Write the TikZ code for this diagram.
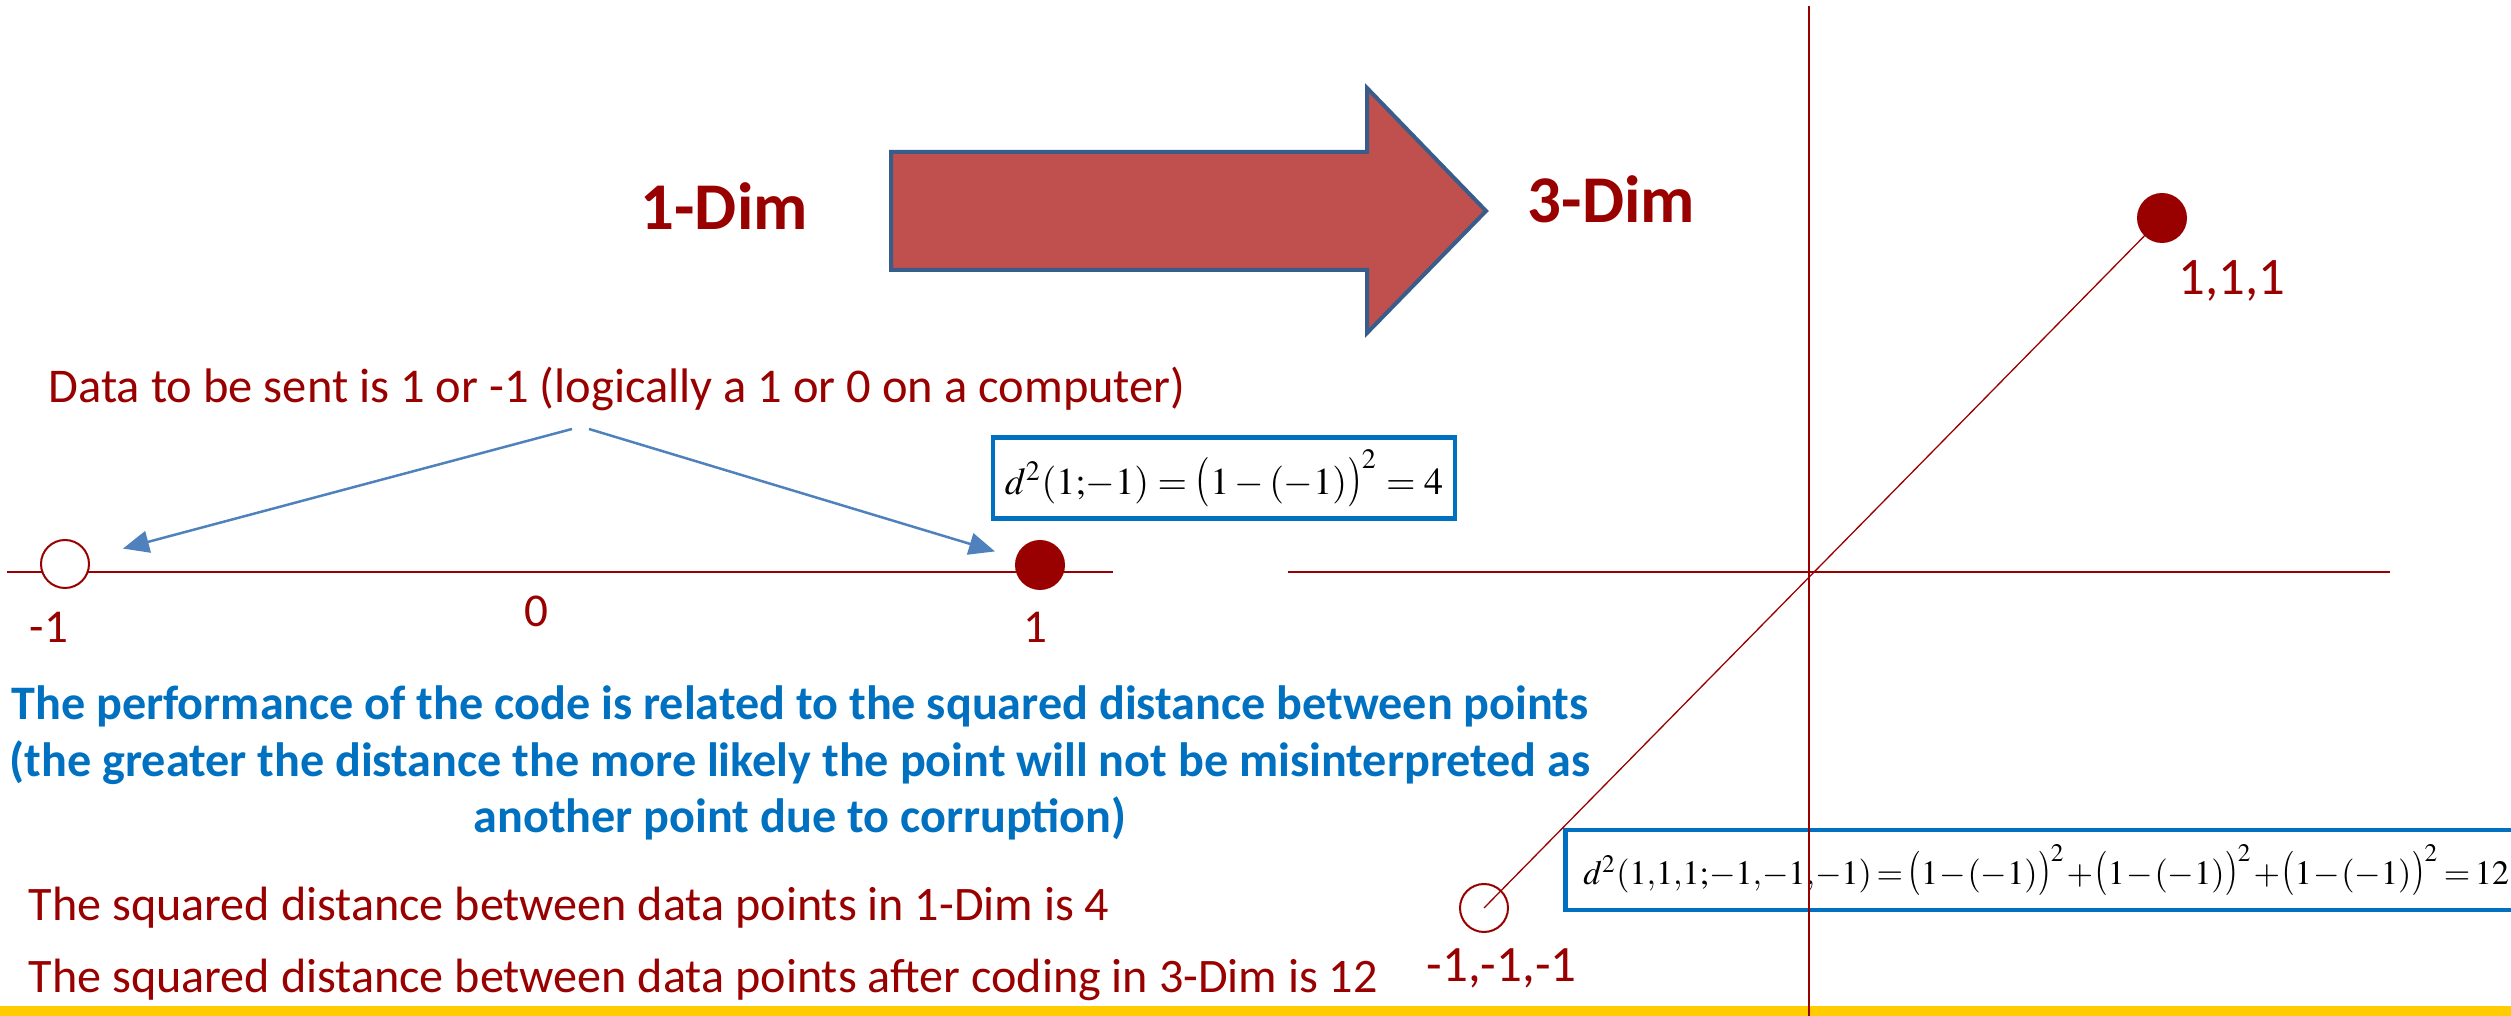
\documentclass[tikz,border=0pt]{standalone}
\usepackage{mathptmx}
\usepackage[no-math]{fontspec}
\setmainfont{Carlito}
\usepackage{tikz}
\usetikzlibrary{positioning, arrows.meta, calc}
\definecolor{cDarkRed}  {HTML}{990000}
\definecolor{cTextBlue} {HTML}{0070C0}
\definecolor{cArrowFill}{HTML}{C0504D}
\definecolor{cArrowEdge}{HTML}{385D8A}
\definecolor{cPointer}  {HTML}{4F81BD}
\definecolor{cBar}      {HTML}{FFCC00}
% tall but narrow brackets, as in the slide's equation editor
\newcommand{\tallL}{\mathopen{\scalebox{1}[1.3]{$($}}}
\newcommand{\tallR}{\mathclose{\scalebox{1}[1.3]{$)$}}}
\newcommand{\diffsq}{\tallL 1-(-1)\tallR^{2}}

\begin{document}
\begin{tikzpicture}[x=0.1mm, y=-0.1mm,
    dimlabel/.style={inner sep=0pt, anchor=base west, text=cDarkRed,
                     font=\fontsize{19}{23}\selectfont\bfseries},
    redtxt/.style={inner sep=0pt, anchor=base west, text=cDarkRed,
                   font=\fontsize{13.8}{16}\selectfont},
    ticklabel/.style={inner sep=0pt, anchor=base west, text=cDarkRed,
                      font=\fontsize{13.4}{16}\selectfont},
    bluetxt/.style={inner sep=0pt, anchor=base, text=cTextBlue,
                    font=\fontsize{13.7}{16}\selectfont\bfseries},
    formulabox/.style={draw=cTextBlue, line width=0.45mm, fill=white,
                       font=\fontsize{10.8}{12}\selectfont},
    ptopen/.style={circle, draw=cDarkRed, line width=0.2mm, fill=white,
                   minimum size=4.8mm, inner sep=0pt, outer sep=0pt},
    ptfull/.style={ptopen, fill=cDarkRed},
    axisline/.style={draw=cDarkRed, line width=0.2mm},
    pointer/.style={draw=cPointer, line width=0.25mm,
                    -{Triangle[length=2.6mm, width=2.2mm]}}]
  \useasboundingbox (0,0) rectangle (2511,1016);
  \clip (0,0) rectangle (2511,1016);

  % bottom bar
  \fill[cBar] (0,1006) rectangle (2511,1016);

  % block arrow between the two titles
  \draw[cArrowEdge, line width=0.4mm, fill=cArrowFill, line join=miter]
    (891,152) -- (1367,152) -- (1367,88) -- (1486,211)
    -- (1367,333) -- (1367,270) -- (891,270) -- cycle;
  \node[dimlabel] (oneDim) at (640,230) {1-Dim};
  \node[dimlabel] (threeDim) at (1527,223) {3-Dim};

  % 1-dim line
  \node[redtxt] (sent) at (48,403) {Data to be sent is 1 or -1 (logically a 1 or 0 on a computer)};
  \coordinate (srcL) at (572,429);
  \coordinate (srcR) at (589,429);
  \coordinate (lineA) at (7,572);
  \coordinate (lineB) at (1113,572);
  \draw[axisline] (lineA) -- (lineB);
  \node[ptopen] (ptNeg) at (65,564) {};
  \node[ptfull] (ptPos) at (1040,565) {};
  \draw[pointer, shorten >=3.6mm] (srcL) -- (ptNeg);
  \draw[pointer, shorten >=2.3mm] (srcR) -- (ptPos);
  \node[ticklabel] (tickNeg) at (29,643) {-1};
  \node[ticklabel] (tickZero) at (524,627) {0};
  \node[ticklabel] (tickPos) at (1023,643) {1};
  \node[formulabox, minimum width=45.6mm, minimum height=6.2mm] (dOne) at (1224,478)
    {$d^{2}(1{;}{-}1)=\diffsq=4$};

  % explanation
  \node[bluetxt] (perf1) at (800,720) {The performance of the code is related to the squared distance between points};
  \node[bluetxt] (perf2) at (800,777) {(the greater the distance the more likely the point will not be misinterpreted as};
  \node[bluetxt] (perf3) at (800,833) {another point due to corruption)};
  \node[redtxt, font=\fontsize{13.7}{16}\selectfont] (sq1) at (28,921) {The squared distance between data points in 1-Dim is 4};
  \node[redtxt, font=\fontsize{13.7}{16}\selectfont] (sq3) at (28,993) {The squared distance between data points after coding in 3-Dim is 12};

  % 3-dim axes
  \node[formulabox, anchor=west, minimum height=8mm, inner xsep=1.8mm,
        font=\fontsize{9.7}{12}\selectfont] (dThree) at (1563,870)
    {$\medmuskip=0.8mu\thickmuskip=2.5mu
      d^{2}(1{,}1{,}1{;}{-}1{,}{-}1{,}{-}1)=\diffsq+\diffsq+\diffsq=12$};
  \coordinate (hA) at (1288,572);
  \coordinate (hB) at (2390,572);
  \coordinate (vA) at (1809,6);
  \coordinate (vB) at (1809,1016);
  \draw[axisline] (hA) -- (hB);
  \draw[axisline] (vA) -- (vB);
  \node[ptopen, fill=none] (ptLow) at (1484,908) {};
  \node[ptfull] (ptHigh) at (2162,218) {};
  \draw[draw=cDarkRed, line width=0.13mm] (ptLow.center) -- (ptHigh);
  \node[ticklabel, font=\fontsize{15}{17}\selectfont] (lblHigh) at (2178,295) {1,1,1};
  \node[ticklabel, font=\fontsize{14.5}{17}\selectfont] (lblLow) at (1426,982) {-1,-1,-1};
\end{tikzpicture}
\end{document}
